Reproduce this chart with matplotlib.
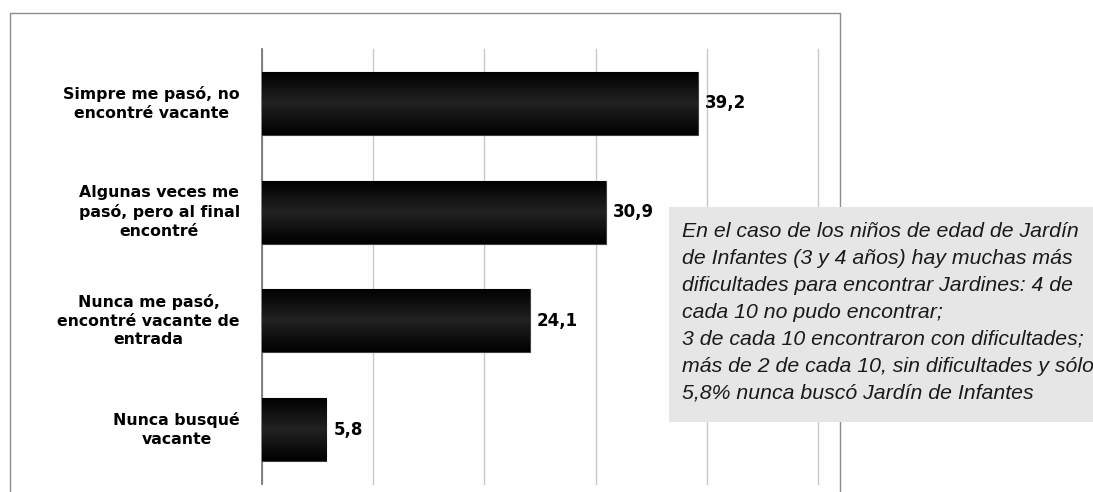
import numpy as np
import matplotlib
matplotlib.use("Agg")
import matplotlib.pyplot as plt
from matplotlib.patches import Rectangle
from matplotlib.colors import LinearSegmentedColormap

categories = [
    "Simpre me pasó, no\nencontré vacante",
    "Algunas veces me\npasó, pero al final\nencontré",
    "Nunca me pasó,\nencontré vacante de\nentrada",
    "Nunca busqué\nvacante",
]
values = [39.2, 30.9, 24.1, 5.8]
value_labels = ["39,2", "30,9", "24,1", "5,8"]
x_ticks = [0, 10, 20, 30, 40, 50]
note = ("En el caso de los niños de edad de Jardín\n"
        "de Infantes (3 y 4 años) hay muchas más\n"
        "dificultades para encontrar Jardines: 4 de\n"
        "cada 10 no pudo encontrar;\n"
        "3 de cada 10 encontraron con dificultades;\n"
        "más de 2 de cada 10, sin dificultades y sólo\n"
        "5,8% nunca buscó Jardín de Infantes")

W, H = 1093, 492
fig = plt.figure(figsize=(W / 100, H / 100), dpi=100)
fig.patch.set_facecolor("white")

# outer frame
fig.patches.append(Rectangle((10 / W, -0.1), (840 - 10) / W, 1 - 13 / H + 0.1,
                             transform=fig.transFigure, fill=False,
                             edgecolor="#8c8c8c", linewidth=1.0, zorder=0))

ax = fig.add_axes([262 / W, 1 - 484 / H, (818 - 262) / W, (484 - 49) / H])
ax.set_facecolor("none")
y = np.arange(len(categories))
bars = ax.barh(y, values, height=0.58, color="#050505", edgecolor="#404040",
               linewidth=0.8, zorder=3)

cmap = LinearSegmentedColormap.from_list("g", ["#000000", "#222222", "#000000"])
grad = np.linspace(0, 1, 64).reshape(-1, 1)
for b in bars:
    x0, y0 = b.get_x(), b.get_y()
    w, h = b.get_width(), b.get_height()
    im = ax.imshow(grad, cmap=cmap, aspect="auto", extent=(x0, x0 + w, y0, y0 + h),
                   zorder=3.5, interpolation="bilinear")
    im.set_clip_path(b)

for yi, v, lab in zip(y, values, value_labels):
    ax.annotate(lab, (v, yi), xytext=(5, 0), textcoords="offset points",
                ha="left", va="center", fontsize=12, fontweight="bold",
                family="DejaVu Sans", color="#000000", zorder=5)

ax.set_xlim(0, 50)
ax.set_ylim(len(categories) - 0.5, -0.5)
ax.set_xticks(x_ticks)
ax.set_xticklabels([])
ax.tick_params(axis="x", length=0)
ax.xaxis.grid(True, color="#c8c8c8", linewidth=1.0, zorder=0)
ax.set_axisbelow(True)
for gl in ax.get_xgridlines():
    gl.set_clip_on(False)
ax.set_yticks(y)
ax.set_yticklabels(categories, fontsize=11.3, fontweight="bold",
                   family="DejaVu Sans", multialignment="center", linespacing=1.3)
for t in ax.get_yticklabels():
    t.set_va("center")
ax.tick_params(axis="y", length=0, pad=16)
for s in ["top", "right", "bottom"]:
    ax.spines[s].set_visible(False)
ax.spines["left"].set_color("#707070")
ax.spines["left"].set_linewidth(1.2)

# note box
fig.patches.append(Rectangle((669 / W, 1 - 422 / H), (W - 669) / W + 0.05, (422 - 207) / H,
                             transform=fig.transFigure, facecolor="#e6e6e6",
                             edgecolor="none", zorder=10))
fig.text(682 / W, 1 - 222 / H, note, ha="left", va="top", fontsize=15.3,
         style="italic", family="Liberation Sans", color="#1a1a1a",
         linespacing=1.53, zorder=11)

fig.savefig("out.png", dpi=100, facecolor="white")
